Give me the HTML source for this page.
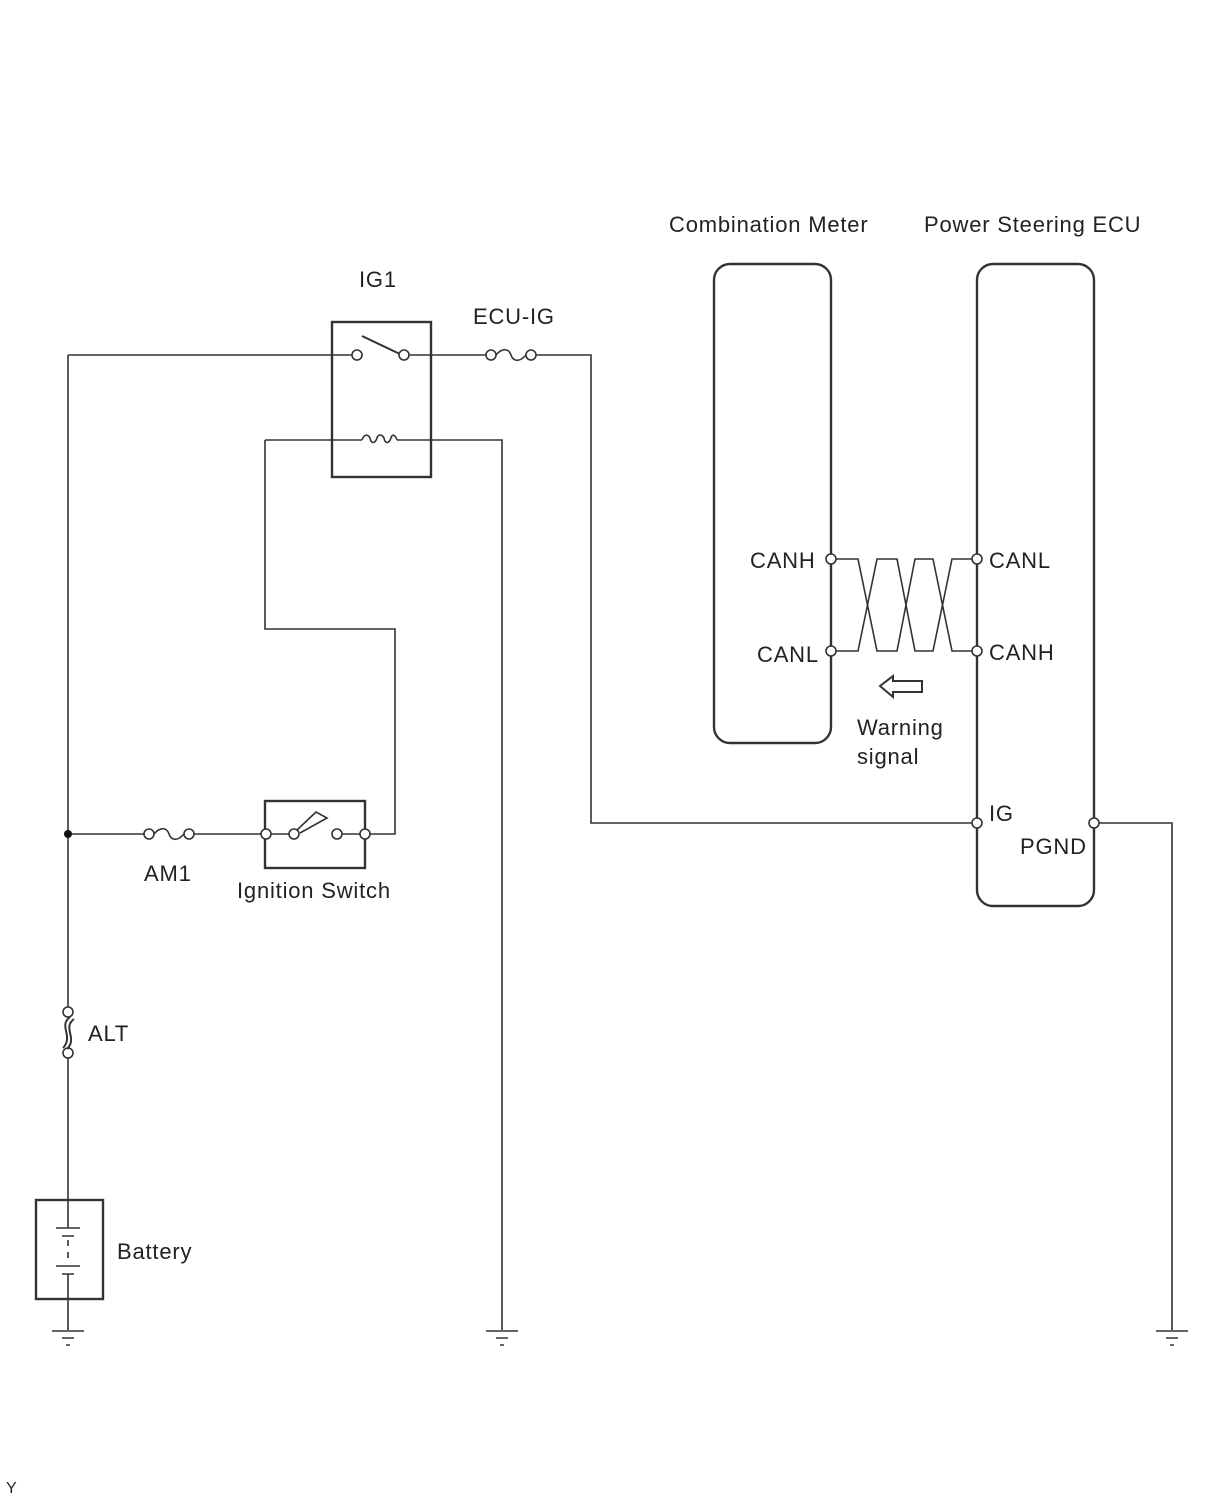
<!DOCTYPE html>
<html><head><style>
body{margin:0;background:#fff;}
svg text{font-family:"Liberation Sans",sans-serif;font-size:22px;letter-spacing:0.8px;fill:#222;}
</style></head><body>
<svg width="1210" height="1498" viewBox="0 0 1210 1498" xmlns="http://www.w3.org/2000/svg">
<g stroke="#333" stroke-width="1.6" fill="none">
<path d="M68 355 H357"/>
<path d="M68 355 V1008"/>
<path d="M68 1055 V1200"/>
<rect x="332" y="322" width="99" height="155" stroke-width="2.4"/>
<path d="M362 336 L402 355" stroke-width="2"/>
<path d="M408 355 H486"/>
<path d="M535 355 H591 V823 H972"/>
<circle cx="491" cy="355" r="5" fill="#fff"/>
<circle cx="531" cy="355" r="5" fill="#fff"/>
<path d="M496 355 C503 347 509 349 511 355 C513 361 519 363 526 355"/>
<path d="M265 440 H362 M397 440 H502 V1330"/>
<path d="M362 440 C364 434 368 434 370 438 C371 444 375 444 377 438 C378 434 382 434 384 438 C385 444 389 444 391 438 C392 434 395 434 397 440"/>
<path d="M265 440 V629 H395 V834 H370"/>
<path d="M68 834 H144 M194 834 H262"/>
<circle cx="149" cy="834" r="5" fill="#fff"/>
<circle cx="189" cy="834" r="5" fill="#fff"/>
<path d="M154 834 C161 826 167 828 169 834 C171 840 177 842 184 834"/>
<rect x="265" y="801" width="100" height="67" stroke-width="2.4"/>
<path d="M270 834 H289 M342 834 H360"/>
<circle cx="266" cy="834" r="5" fill="#fff"/>
<circle cx="294" cy="834" r="5" fill="#fff"/>
<circle cx="337" cy="834" r="5" fill="#fff"/>
<circle cx="365" cy="834" r="5" fill="#fff"/>
<path d="M297 830 L316 812 L327 818 L300 833"/>
<circle cx="357" cy="355" r="5" fill="#fff"/>
<circle cx="404" cy="355" r="5" fill="#fff"/>
<circle cx="68" cy="1012" r="5" fill="#fff"/>
<circle cx="68" cy="1053" r="5" fill="#fff"/>
<path d="M70 1017 C58 1026 74 1036 63 1048 M74 1019 C62 1028 78 1038 67 1049" stroke-width="2"/>
<rect x="36" y="1200" width="67" height="99" stroke-width="2.4"/>
<path d="M68 1200 V1228 M56 1228 H80 M62 1236 H74 M68 1240 V1246 M68 1252 V1258 M56 1266 H80 M62 1274 H74 M68 1274 V1330"/>
<path d="M52 1331 H84 M62 1338 H74 M66 1345 H70"/>
<path d="M486 1331 H518 M496 1338 H508 M500 1345 H504"/>
<path d="M1099 823 H1172 V1330 M1156 1331 H1188 M1166 1338 H1178 M1170 1345 H1174"/>
<rect x="714" y="264" width="117" height="479" rx="16" stroke-width="2.4"/>
<rect x="977" y="264" width="117" height="642" rx="16" stroke-width="2.4"/>
<path d="M836 559 H858 L877 651 H897 L915 559 H933 L952 651 H972"/>
<path d="M836 651 H858 L877 559 H897 L915 651 H933 L952 559 H972"/>
<circle cx="831" cy="559" r="5" fill="#fff"/>
<circle cx="831" cy="651" r="5" fill="#fff"/>
<circle cx="977" cy="559" r="5" fill="#fff"/>
<circle cx="977" cy="651" r="5" fill="#fff"/>
<circle cx="977" cy="823" r="5" fill="#fff"/>
<circle cx="1094" cy="823" r="5" fill="#fff"/>
<path d="M880 686 L893 676 V681 H922 V692 H893 V697 Z" stroke-width="2"/>
</g>
<circle cx="68" cy="834" r="4" fill="#111"/>
<text x="359" y="287">IG1</text>
<text x="473" y="324">ECU-IG</text>
<text x="669" y="232">Combination Meter</text>
<text x="924" y="232">Power Steering ECU</text>
<text x="750" y="568">CANH</text>
<text x="757" y="662">CANL</text>
<text x="989" y="568">CANL</text>
<text x="989" y="660">CANH</text>
<text x="857" y="735">Warning</text>
<text x="857" y="764">signal</text>
<text x="989" y="821">IG</text>
<text x="1020" y="854">PGND</text>
<text x="144" y="881">AM1</text>
<text x="237" y="898">Ignition Switch</text>
<text x="88" y="1041">ALT</text>
<text x="117" y="1259">Battery</text>
<text x="6" y="1493" style="font-size:16px">Y</text>
</svg>
</body></html>
